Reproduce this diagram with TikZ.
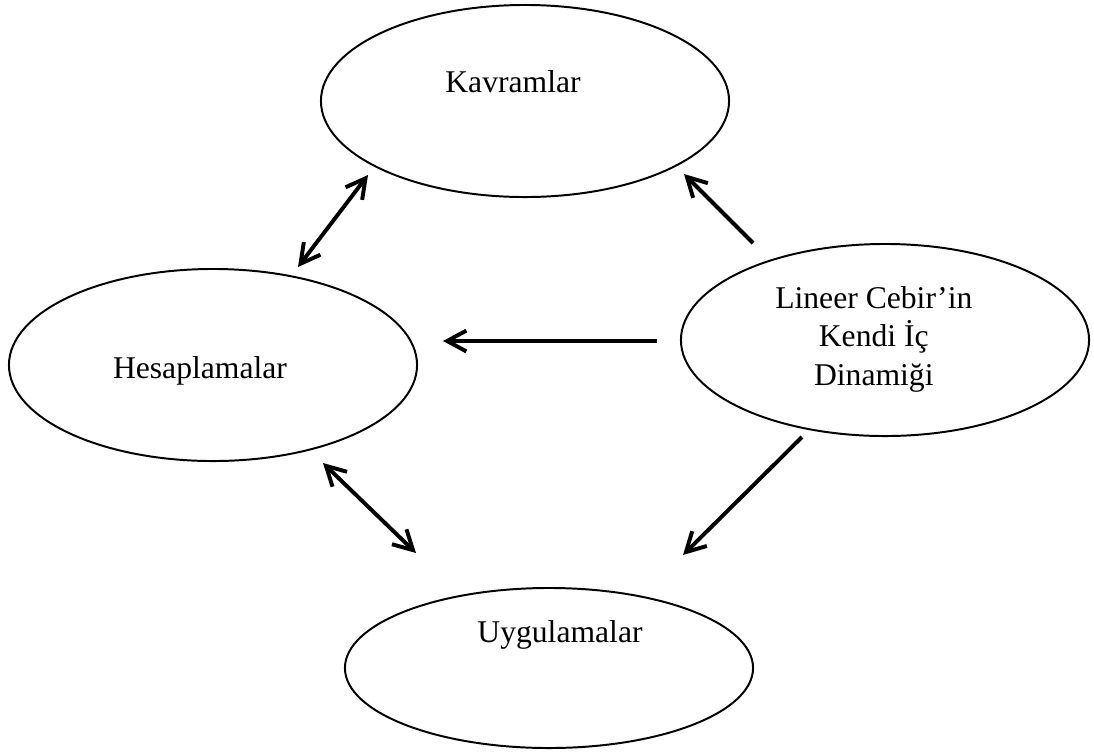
\documentclass[tikz,border=0pt]{standalone}
\usepackage{fontspec}
\setmainfont{Liberation Serif}
\usetikzlibrary{shapes.geometric,arrows.meta}
\begin{document}
\begin{tikzpicture}
[x=0.025cm, y=-0.025cm, font=\fontsize{22.5}{27.5}\selectfont]
\tikzstyle{blob}=[ellipse, draw, line width=1.4pt, inner sep=0mm, minimum width=10.2cm, minimum height=4.8cm]
\tikzstyle{link}=[line width=2.8pt, -{Straight Barb[length=4.8mm,width=5.2mm]}]
\tikzstyle{both}=[line width=2.8pt, {Straight Barb[length=4.8mm,width=5.2mm]}-{Straight Barb[length=4.8mm,width=5.2mm]}]
\useasboundingbox (0,0) rectangle (1094,752);

\node[blob]	(K)	at (525,101)	[label={[xshift=-0.3cm, yshift=0.475cm]center:Kavramlar}]{};
\node[blob]	(H)	at (213,365)	[label={[xshift=-0.325cm, yshift=-0.14cm]center:Hesaplamalar}]{};
\node[blob]	(L)	at (885,340)	[label={[xshift=-0.28cm, yshift=0.02cm, align=center]center:Lineer Cebir’in\\Kendi İç\\Dinamiği}]{};
\node[blob]	(U)	at (549,668)	[minimum height=4cm, label={[xshift=0.275cm, yshift=0.825cm]center:Uygulamalar}]{};

\coordinate	(HK)	at (298,267);
\coordinate	(KH)	at (368,175);
\coordinate	(LK)	at (753,243);
\coordinate	(KL)	at (684,174);
\coordinate	(LH)	at (657,341);
\coordinate	(HL)	at (443,341);
\coordinate	(HU)	at (323,463);
\coordinate	(UH)	at (416,553);
\coordinate	(LU)	at (802,437);
\coordinate	(UL)	at (683,555);

\draw [both] (HK)--(KH);
\draw [both] (HU)--(UH);
\draw [link] (LK)--(KL);
\draw [link] (LH)--(HL);
\draw [link] (LU)--(UL);

\end{tikzpicture}
\end{document}
